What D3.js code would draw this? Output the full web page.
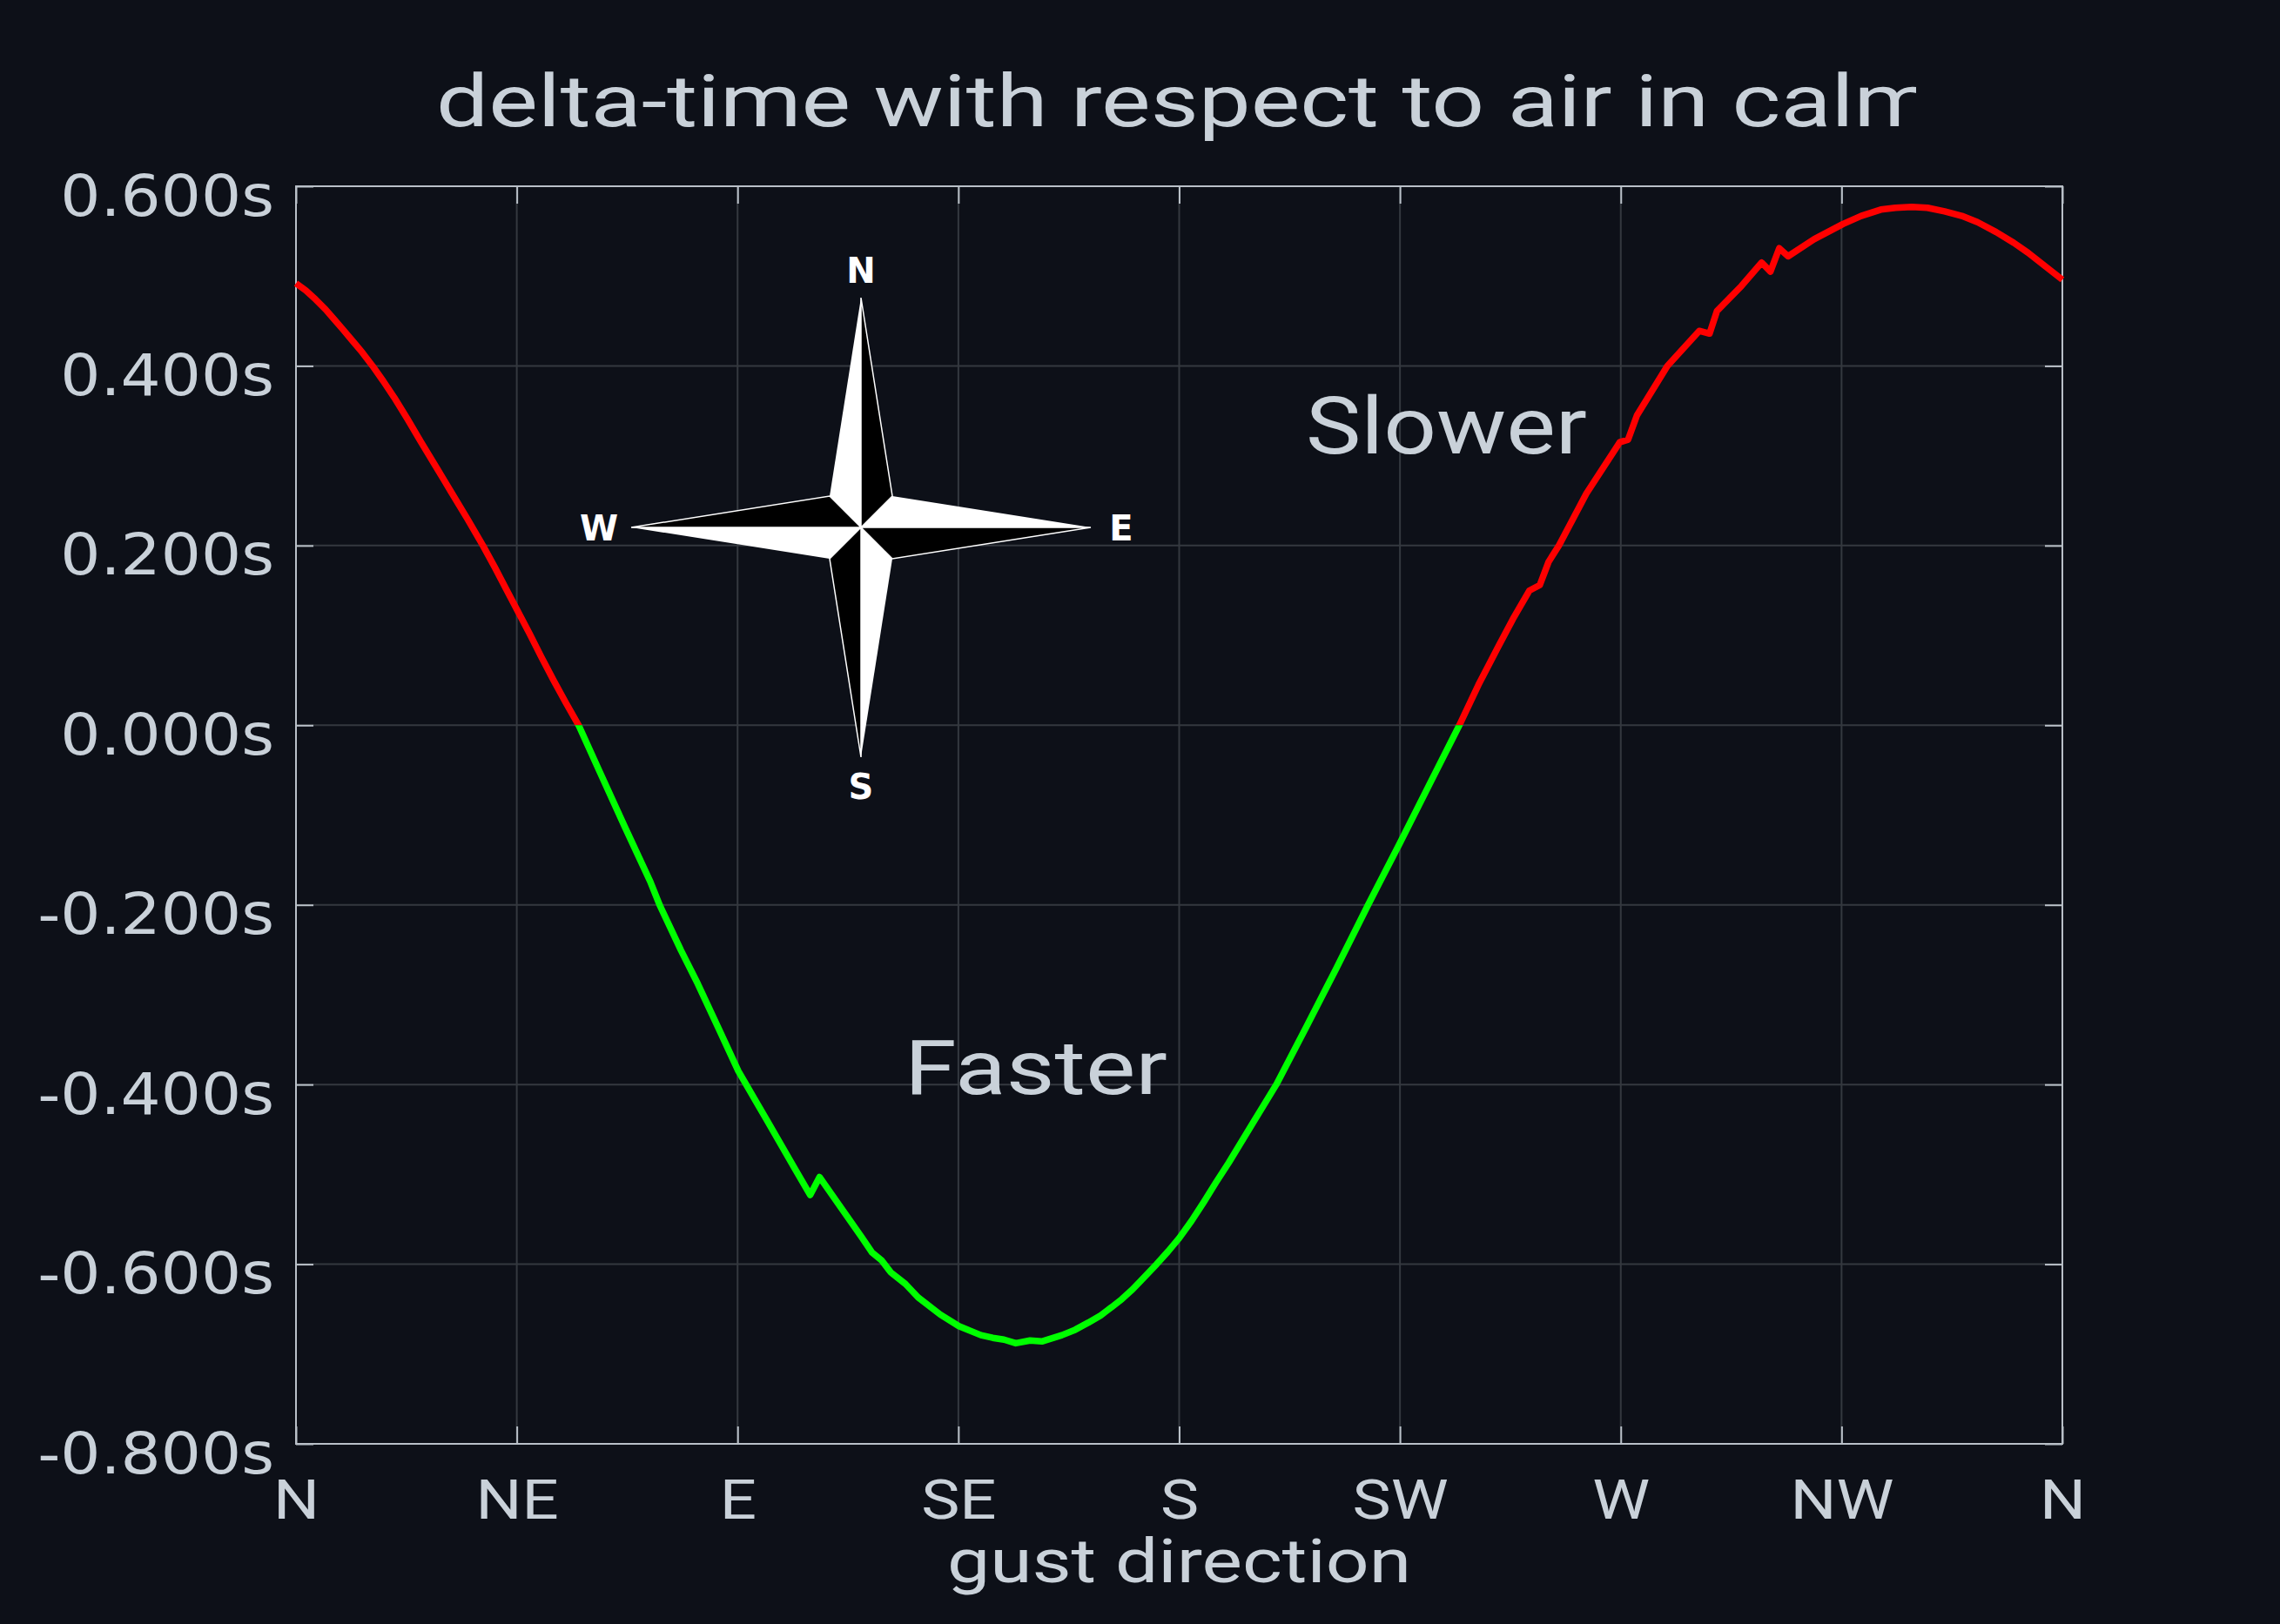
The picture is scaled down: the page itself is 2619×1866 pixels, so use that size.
<!DOCTYPE html>
<html>
<head>
<meta charset="utf-8">
<script src="https://cdn.jsdelivr.net/npm/d3@7"></script>
<style>
  body { margin: 0; background: #0d1018; }
</style>
</head>
<body>
<div id="chart"></div>
<script>
// gust direction in degrees (0 = N, 90 = E, 180 = S, 270 = W)
var angles = [0, 2, 4, 6, 7.6, 9.5, 11.5, 13.5, 15.6, 17.8,
  20, 22.7, 25.4, 28.5, 31.7, 34.9, 38.1, 40.5, 42.8, 45.2,
  47.6, 50, 52.5, 55, 57.6, 62, 67, 72.2, 74.1, 78.5,
  81.9, 86, 90.15, 96, 101.7, 104.8, 106.7, 111.2, 115.3, 117.4,
  119.4, 121.2, 124.2, 126.8, 131.3, 135.1, 139.6, 142, 144.3, 146.7,
  149.6, 152, 156.1, 158.8, 161.5, 164, 166.2, 168.3, 170.3, 172.1,
  175.4, 177.7, 180, 182.5, 185, 187.5, 190.1, 195, 199.8, 206,
  212, 218.5, 225, 231, 237.1, 241, 244.8, 248, 251.4, 253.5,
  255.3, 257.4, 263, 269.8, 271.5, 273.3, 279.5, 286, 288.1, 289.6,
  294.6, 298.7, 300.5, 302.3, 304.1, 309.4, 315.3, 319, 323, 326,
  329.3, 332.5, 336, 339.5, 342.7, 346.5, 350.1, 353, 356.5, 360];

// delta-time with respect to calm air, seconds
var deltas = [0.492, 0.484, 0.474, 0.463, 0.453, 0.441, 0.428, 0.415, 0.400, 0.383,
  0.365, 0.341, 0.316, 0.288, 0.259, 0.230, 0.200, 0.176, 0.152, 0.127,
  0.102, 0.076, 0.050, 0.025, 0.000, -0.053, -0.113, -0.174, -0.200, -0.251,
  -0.288, -0.336, -0.385, -0.440, -0.494, -0.523, -0.503, -0.538, -0.570, -0.587,
  -0.596, -0.609, -0.622, -0.637, -0.656, -0.669, -0.679, -0.682, -0.684, -0.688,
  -0.685, -0.686, -0.679, -0.673, -0.665, -0.657, -0.648, -0.639, -0.629, -0.619,
  -0.600, -0.586, -0.571, -0.552, -0.531, -0.509, -0.487, -0.443, -0.400, -0.335,
  -0.271, -0.200, -0.131, -0.066, 0.000, 0.045, 0.085, 0.118, 0.150, 0.156,
  0.182, 0.200, 0.258, 0.315, 0.318, 0.345, 0.400, 0.439, 0.436, 0.461,
  0.489, 0.515, 0.505, 0.531, 0.522, 0.541, 0.558, 0.567, 0.574, 0.576,
  0.577, 0.576, 0.572, 0.567, 0.560, 0.549, 0.537, 0.526, 0.511, 0.496];

var directionTicks = [0, 45, 90, 135, 180, 225, 270, 315, 360];
var directionLabels = ["N", "NE", "E", "SE", "S", "SW", "W", "NW", "N"];
var yTicks = [-0.8, -0.6, -0.4, -0.2, 0, 0.2, 0.4, 0.6];
var compassPoints = ["N", "E", "S", "W"];

var width = 2619, height = 1866;
var margin = { top: 214, right: 250, bottom: 207, left: 340 };
var innerW = width - margin.left - margin.right;
var innerH = height - margin.top - margin.bottom;
var textColor = "#c9d1d9";
var frameColor = "#b9c0c8";
var condensed = "Roboto, 'Noto Sans', sans-serif";

var svg = d3.select("#chart").append("svg")
  .attr("width", width)
  .attr("height", height)
  .style("background", "#0d1018");

var defs = svg.append("defs");

var x = d3.scaleLinear().domain([0, 360]).range([0, innerW]);
var y = d3.scaleLinear().domain([-0.8, 0.6]).range([innerH, 0]);

var g = svg.append("g").attr("transform", `translate(${margin.left},${margin.top})`);

// stretch a text to a given width (reference fonts are wider than what we have)
function fitWidth(sel, factor) {
  sel.each(function() {
    var w = this.getComputedTextLength();
    d3.select(this).attr("textLength", w * factor).attr("lengthAdjust", "spacingAndGlyphs");
  });
}

// grid
g.append("g").selectAll("line.v")
  .data(directionTicks.slice(1, -1))
  .join("line")
  .attr("x1", d => x(d)).attr("x2", d => x(d))
  .attr("y1", 0).attr("y2", innerH)
  .attr("stroke", "#34383f").attr("stroke-width", 2);

g.append("g").selectAll("line.h")
  .data(yTicks.slice(1, -1))
  .join("line")
  .attr("x1", 0).attr("x2", innerW)
  .attr("y1", d => y(d)).attr("y2", d => y(d))
  .attr("stroke", "#34383f").attr("stroke-width", 2);

// axes with inward ticks; plain hyphen for negatives like the original
var fmt = d => d3.format(".3f")(d).replace("\u2212", "-") + "s";

var bottomAxis = g.append("g")
  .attr("transform", `translate(0,${innerH})`)
  .call(d3.axisBottom(x).tickValues(directionTicks).tickSize(-20)
    .tickFormat((d, i) => directionLabels[i]));

var leftAxis = g.append("g")
  .call(d3.axisLeft(y).tickValues(yTicks).tickSize(-20).tickFormat(fmt));

g.append("g")
  .call(d3.axisTop(x).tickValues(directionTicks).tickSize(-20).tickFormat(""));

g.append("g")
  .attr("transform", `translate(${innerW},0)`)
  .call(d3.axisRight(y).tickValues(yTicks).tickSize(-20).tickFormat(""));

g.selectAll(".domain").remove();
g.selectAll(".tick line").attr("stroke", frameColor).attr("stroke-width", 2);

bottomAxis.selectAll("text")
  .attr("y", 86).attr("dy", null)
  .attr("fill", textColor)
  .style("font-family", condensed)
  .style("font-size", "63px");
fitWidth(bottomAxis.selectAll("text"), 1.18);

leftAxis.selectAll("text")
  .attr("x", -25).attr("y", 33).attr("dy", null)
  .attr("fill", textColor)
  .style("font-family", "'DejaVu Sans', sans-serif")
  .style("font-size", "66px");
fitWidth(leftAxis.selectAll("text"), 1.1);

g.append("rect")
  .attr("width", innerW).attr("height", innerH)
  .attr("fill", "none").attr("stroke", frameColor).attr("stroke-width", 2);

// compass rose
var cx = 989, cy = 606, arm = 264, shoulder = 36;
var rose = svg.append("g").attr("transform", `translate(${cx},${cy})`);
var tips = [[0, -arm], [arm, 0], [0, arm], [-arm, 0]];
var shoulders = [[shoulder, -shoulder], [shoulder, shoulder], [-shoulder, shoulder], [-shoulder, -shoulder]];
tips.forEach(function(t, i) {
  var prev = shoulders[(i + 3) % 4];
  var next = shoulders[i];
  rose.append("polygon")
    .attr("points", [[0, 0], t, prev].join(" "))
    .attr("fill", "#ffffff");
  rose.append("polygon")
    .attr("points", [[0, 0], t, next].join(" "))
    .attr("fill", "#000000")
    .attr("stroke", "#ffffff").attr("stroke-width", 1.5).attr("stroke-linejoin", "miter");
});
var labelPos = [[0, -281], [299, 15], [0, 312], [-301, 15]];
rose.selectAll("text.cp")
  .data(compassPoints)
  .join("text")
  .attr("x", (d, i) => labelPos[i][0])
  .attr("y", (d, i) => labelPos[i][1])
  .attr("text-anchor", "middle")
  .attr("fill", "#ffffff")
  .style("font-family", "'DejaVu Sans', sans-serif")
  .style("font-weight", "bold")
  .style("font-size", "40px")
  .text(d => d);

// curve: red above zero, green below
defs.append("clipPath").attr("id", "above")
  .append("rect").attr("x", -20).attr("y", -20).attr("width", innerW + 40).attr("height", y(0) + 20);
defs.append("clipPath").attr("id", "below")
  .append("rect").attr("x", -20).attr("y", y(0)).attr("width", innerW + 40).attr("height", innerH - y(0) + 20);

var points = angles.map((a, i) => [a, deltas[i]]);
var line = d3.line().x(d => x(d[0])).y(d => y(d[1]));

g.append("path")
  .datum(points)
  .attr("clip-path", "url(#above)")
  .attr("d", line)
  .attr("fill", "none").attr("stroke", "#ff0000").attr("stroke-width", 7.5)
  .attr("stroke-linejoin", "round");

g.append("path")
  .datum(points)
  .attr("clip-path", "url(#below)")
  .attr("d", line)
  .attr("fill", "none").attr("stroke", "#00ff00").attr("stroke-width", 7.5)
  .attr("stroke-linejoin", "round");

// annotations
g.append("text")
  .attr("x", 1500 - margin.left).attr("y", 521 - margin.top)
  .attr("fill", textColor)
  .style("font-family", condensed).style("font-size", "90px")
  .attr("textLength", 323).attr("lengthAdjust", "spacingAndGlyphs")
  .text("Slower");

g.append("text")
  .attr("x", 1039 - margin.left).attr("y", 1257 - margin.top)
  .attr("fill", textColor)
  .style("font-family", condensed).style("font-size", "88px")
  .attr("textLength", 302).attr("lengthAdjust", "spacingAndGlyphs")
  .text("Faster");

// axis title
svg.append("text")
  .attr("x", margin.left + innerW / 2).attr("y", 1818)
  .attr("text-anchor", "middle")
  .attr("fill", textColor)
  .style("font-family", condensed).style("font-size", "70px")
  .attr("textLength", 533).attr("lengthAdjust", "spacingAndGlyphs")
  .text("gust direction");

// chart title (clipped on the right like the original)
defs.append("clipPath").attr("id", "titleClip")
  .append("rect").attr("x", 0).attr("y", 0).attr("width", 2201).attr("height", 200);

svg.append("text")
  .attr("clip-path", "url(#titleClip)")
  .attr("x", 501).attr("y", 145)
  .attr("fill", textColor)
  .style("font-family", condensed).style("font-size", "84px")
  .attr("textLength", 1722).attr("lengthAdjust", "spacingAndGlyphs")
  .text("delta-time with respect to air in calm");
</script>
</body>
</html>
